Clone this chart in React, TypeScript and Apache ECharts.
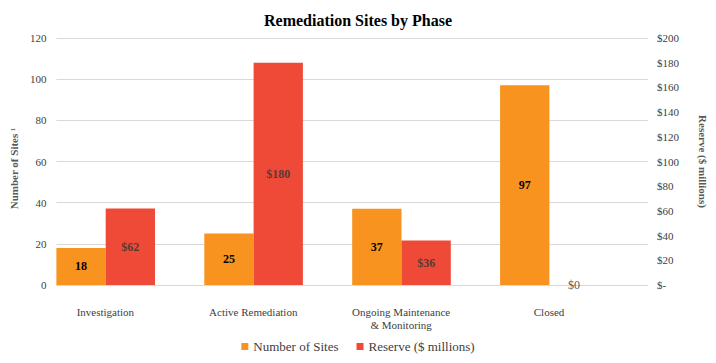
import React, { useEffect, useRef } from "react";
import * as echarts from "echarts";

const categories = ["Investigation", "Active Remediation", "Ongoing Maintenance\n& Monitoring", "Closed"];
const sites = [18, 25, 37, 97];
const reserve = [62, 180, 36, 0];
const leftTicks = { min: 0, max: 120, interval: 20 };
const rightTicks = { min: 0, max: 200, interval: 20 };

const FONT = "Liberation Serif";

export default function App() {
  const ref = useRef<HTMLDivElement>(null);
  useEffect(() => {
    if (!ref.current) return;
    const chart = echarts.init(ref.current, undefined, { renderer: "svg" });
    chart.setOption({
      animation: false,
      textStyle: { fontFamily: FONT },
      title: {
        text: "Remediation Sites by Phase",
        left: "center",
        top: 7,
        textStyle: { fontFamily: FONT, fontSize: 16, fontWeight: "bold", color: "#000" },
      },
      legend: {
        data: ["Number of Sites", "Reserve ($ millions)"],
        top: 335,
        left: "center",
        icon: "rect",
        itemWidth: 7,
        itemHeight: 7,
        itemGap: 18,
        textStyle: { fontFamily: FONT, fontSize: 13, color: "#404040" },
      },
      grid: { left: 54, right: 68, top: 38, bottom: 78 },
      xAxis: {
        type: "category",
        data: categories,
        axisLine: { lineStyle: { color: "#d9d9d9" } },
        axisTick: { show: false },
        axisLabel: {
          fontFamily: FONT,
          fontSize: 11,
          color: "#404040",
          margin: 20,
          lineHeight: 13,
          padding: [0, 50, 0, 0],
          interval: 0,
        },
      },
      yAxis: [
        {
          type: "value",
          ...leftTicks,
          name: "Number of Sites \u00B9",
          nameLocation: "middle",
          nameGap: 34,
          nameTextStyle: { fontFamily: FONT, fontSize: 11, fontWeight: "bold", color: "#595959", padding: [0, 14, 0, 0] },
          axisLine: { show: false },
          axisTick: { show: false },
          splitLine: { lineStyle: { color: "#d9d9d9" } },
          axisLabel: { fontFamily: FONT, fontSize: 11, color: "#404040", margin: 10 },
        },
        {
          type: "value",
          ...rightTicks,
          position: "right",
          name: "Reserve ($ millions)",
          nameLocation: "middle",
          nameGap: 49,
          nameRotate: -90,
          nameTextStyle: { fontFamily: FONT, fontSize: 11, fontWeight: "bold", color: "#595959" },
          axisLine: { show: false },
          axisTick: { show: false },
          splitLine: { show: false },
          axisLabel: {
            fontFamily: FONT,
            fontSize: 11,
            color: "#404040",
            margin: 9,
            formatter: (v: number) => (v === 0 ? "$-" : "$" + v),
          },
        },
      ],
      series: [
        {
          name: "Number of Sites",
          type: "bar",
          data: sites,
          yAxisIndex: 0,
          barGap: "0%",
          barCategoryGap: "0%",
          itemStyle: { color: "#F7931E" },
          label: {
            show: true,
            position: "inside",
            fontFamily: FONT,
            fontSize: 12,
            fontWeight: "bold",
            color: "#000",
          },
        },
        {
          name: "Reserve ($ millions)",
          type: "bar",
          data: reserve.map((v) =>
            v === 0
              ? { value: v, label: { color: "#595959", fontWeight: "normal" } }
              : v
          ),
          yAxisIndex: 1,
          barGap: "0%",
          barCategoryGap: "0%",
          itemStyle: { color: "#EF4A38" },
          label: {
            show: true,
            position: "inside",
            fontFamily: FONT,
            fontSize: 12,
            fontWeight: "bold",
            color: "#5a3a34",
            formatter: (p: any) => "$" + p.value,
          },
        },
        {
          name: "spacer",
          type: "bar",
          data: ["-", "-", "-", "-"],
          yAxisIndex: 0,
          barGap: "0%",
          barCategoryGap: "0%",
          itemStyle: { color: "transparent" },
          silent: true,
        },
      ],
    });
    return () => chart.dispose();
  }, []);
  return <div ref={ref} style={{ width: 716, height: 363, margin: -8 }} />;
}
